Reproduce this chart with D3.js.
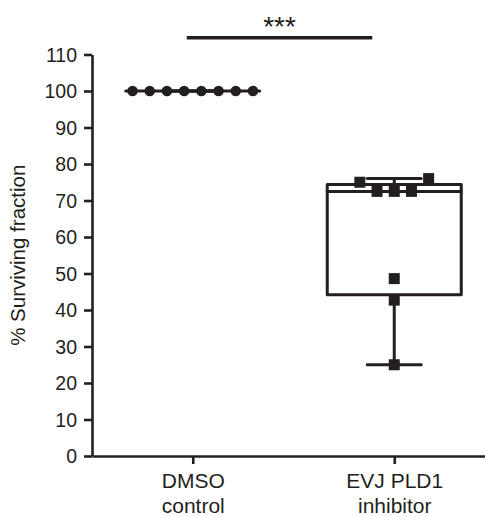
<!DOCTYPE html>
<html>
<head>
<meta charset="utf-8">
<script src="https://cdn.jsdelivr.net/npm/d3@7"></script>
<style>
	body { margin: 0; background: #fff; }
	text { font-family: "Liberation Sans", Arial, Helvetica, sans-serif; fill: #231f20; }
</style>
</head>
<body>
<svg id="chart" width="485" height="517"></svg>
<script>
(function(){

	// values
	var categories = ["DMSO control", "EVJ PLD1 inhibitor"];
	var categoryLines = [["DMSO", "control"], ["EVJ PLD1", "inhibitor"]];
	var dmsoValues = [100, 100, 100, 100, 100, 100, 100, 100];
	var evjValues = [75, 72.5, 72.5, 72.5, 76, 48.6, 42.7, 25];
	var yTicks = [0, 10, 20, 30, 40, 50, 60, 70, 80, 90, 100, 110];
	var yLabel = "% Surviving fraction";
	var sigLabel = "***";

	var ink = "#231f20";
	var svg = d3.select("#chart");

	var x = d3.scalePoint()
		.domain(categories)
		.range([92, 495])
		.padding(0.5);

	var y = d3.scaleLinear()
		.domain([0, 110])
		.range([456, 54.5]);

	var boxWidth = 134, capWidth = 54, spread = 17.2;

	// prism style quartiles
	function quart(sorted, p){
		var h = p * (sorted.length + 1) - 1;
		if(h <= 0) return sorted[0];
		if(h >= sorted.length - 1) return sorted[sorted.length - 1];
		var lo = Math.floor(h);
		return sorted[lo] + (h - lo) * (sorted[lo + 1] - sorted[lo]);
	}

	// spread points that sit close together, in data order
	function scatter(values){
		var idx = values.map(function(v, i){ return i; });
		idx.sort(function(a, b){ return values[a] - values[b] || a - b; });
		var groups = [], cur = [];
		idx.forEach(function(i){
			if(cur.length && values[i] - values[cur[cur.length - 1]] > 4){
				groups.push(cur); cur = [];
			}
			cur.push(i);
		});
		if(cur.length) groups.push(cur);
		var off = [];
		groups.forEach(function(g){
			g.sort(function(a, b){ return a - b; });
			g.forEach(function(i, k){ off[i] = (k - (g.length - 1) / 2) * spread; });
		});
		return values.map(function(v, i){ return {v: v, dx: off[i]}; });
	}

	var groups = [
		{cat: categories[0], values: dmsoValues, shape: "circle"},
		{cat: categories[1], values: evjValues, shape: "square"}
	];

	// axes
	var yAxis = svg.append("g")
		.attr("transform", "translate(" + x.range()[0] + ",0)")
		.call(d3.axisLeft(y).tickValues(yTicks).tickSize(8).tickSizeOuter(0).tickPadding(7));

	var xAxis = svg.append("g")
		.attr("transform", "translate(0," + y(0) + ")")
		.call(d3.axisBottom(x).tickSize(8).tickSizeOuter(0).tickFormat(""));

	[yAxis, xAxis].forEach(function(a){
		a.select(".domain").attr("stroke", ink).attr("stroke-width", 2.6);
		a.selectAll(".tick line").attr("stroke", ink).attr("stroke-width", 2.6);
	});
	yAxis.selectAll(".tick text")
		.style("font-size", "19.5px")
		.attr("dy", "0.35em");

	xAxis.selectAll(".tick").each(function(d, i){
		var t = d3.select(this).append("text")
			.attr("text-anchor", "middle")
			.style("font-size", "21px");
		categoryLines[i].forEach(function(s, k){
			t.append("tspan").attr("x", 0).attr("y", 32 + k * 25).text(s);
		});
	});

	svg.append("text")
		.attr("transform", "translate(25," + ((y(0) + y(110)) / 2) + ") rotate(-90)")
		.attr("text-anchor", "middle")
		.style("font-size", "20.5px")
		.text(yLabel);

	// boxes
	groups.forEach(function(gr){
		var s = gr.values.slice().sort(d3.ascending);
		var q1 = quart(s, 0.25), med = quart(s, 0.5), q3 = quart(s, 0.75);
		var lo = s[0], hi = s[s.length - 1];
		var cx = x(gr.cat);
		var g = svg.append("g")
			.attr("stroke", ink)
			.attr("stroke-width", 3)
			.attr("fill", "none");

		g.append("line").attr("x1", cx).attr("x2", cx).attr("y1", y(q1)).attr("y2", y(lo));
		g.append("line").attr("x1", cx).attr("x2", cx).attr("y1", y(q3)).attr("y2", y(hi));
		g.append("line").attr("x1", cx - capWidth / 2).attr("x2", cx + capWidth / 2).attr("y1", y(lo)).attr("y2", y(lo)).attr("stroke-linecap", "round");
		g.append("line").attr("x1", cx - capWidth / 2).attr("x2", cx + capWidth / 2).attr("y1", y(hi)).attr("y2", y(hi)).attr("stroke-linecap", "round");
		g.append("rect")
			.attr("x", cx - boxWidth / 2)
			.attr("y", y(q3))
			.attr("width", boxWidth)
			.attr("height", Math.max(0, y(q1) - y(q3)))
			.attr("stroke-linejoin", "round");
		g.append("line").attr("x1", cx - boxWidth / 2).attr("x2", cx + boxWidth / 2).attr("y1", y(med)).attr("y2", y(med)).attr("stroke-linecap", "round");

		var pts = svg.append("g").attr("fill", ink);
		if(gr.shape === "circle"){
			pts.selectAll("circle")
				.data(scatter(gr.values))
				.enter().append("circle")
					.attr("cx", function(d){ return cx + d.dx; })
					.attr("cy", function(d){ return y(d.v); })
					.attr("r", 5.3);
		} else {
			pts.selectAll("rect")
				.data(scatter(gr.values))
				.enter().append("rect")
					.attr("x", function(d){ return cx + d.dx - 5.5; })
					.attr("y", function(d){ return y(d.v) - 5.5; })
					.attr("width", 11)
					.attr("height", 11);
		}
	});

	// significance bar
	var x1 = x(categories[0]) - 6, x2 = x(categories[1]) - 22;
	svg.append("line")
		.attr("x1", x1).attr("x2", x2)
		.attr("y1", 37.7).attr("y2", 37.7)
		.attr("stroke", ink)
		.attr("stroke-width", 3.4);
	svg.append("text")
		.attr("x", (x1 + x2) / 2)
		.attr("y", 36)
		.attr("text-anchor", "middle")
		.style("font-size", "28px")
		.text(sigLabel);

})();
</script>
</body>
</html>
